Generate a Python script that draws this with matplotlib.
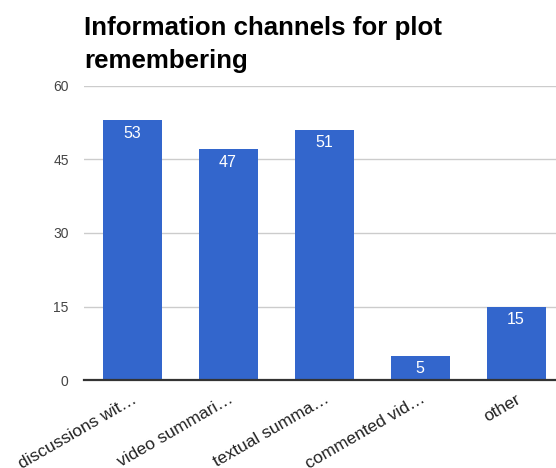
import matplotlib
matplotlib.use("Agg")
import matplotlib.pyplot as plt

plt.rcParams['font.family'] = ['Liberation Sans', 'DejaVu Sans']

# data
categories = ["discussions wit\u2026", "video summari\u2026", "textual summa\u2026",
              "commented vid\u2026", "other"]
values = [53, 47, 51, 5, 15]
yticks = [0, 15, 30, 45, 60]

bar_color = "#3366cc"

fig = plt.figure(figsize=(5.56, 4.68), dpi=100)
W, H = 556, 468
# plot area: left 84px, top 85.6px, bottom 380.3px, 96px per category (clipped at right)
ax = fig.add_axes([84 / W, (H - 380.3) / H, 480 / W, (380.3 - 85.6) / H])

x = list(range(len(categories)))
bars = ax.bar(x, values, width=59 / 96, color=bar_color, zorder=3)
ax.set_xlim(-0.5, len(categories) - 0.5)
ax.set_ylim(0, 60)

for xi, v in zip(x, values):
    ax.annotate(str(v), (xi, v), xytext=(0, -4), textcoords="offset points",
                ha="center", va="top", color="white", fontsize=11.5, zorder=4)

ax.set_yticks(yticks)
ax.set_yticklabels([str(t) for t in yticks], color="#444444", fontsize=10)
ax.tick_params(axis="y", length=0, pad=11)
ax.grid(axis="y", color="#cccccc", linewidth=1, zorder=0)

ax.set_xticks(x)
ax.set_xticklabels(categories, rotation=30, ha="right", va="top",
                   rotation_mode="anchor", color="#222222", fontsize=12.5)
ax.tick_params(axis="x", length=0, pad=8)

for s in ["top", "right", "left"]:
    ax.spines[s].set_visible(False)
ax.spines["bottom"].set_color("#333333")
ax.spines["bottom"].set_linewidth(1.6)
ax.spines["bottom"].set_zorder(5)

fig.text(84 / W, 1 - 34.5 / H, "Information channels for plot",
         ha="left", va="baseline", fontsize=18.6, fontweight="bold", color="black")
fig.text(84 / W, 1 - 68 / H, "remembering",
         ha="left", va="baseline", fontsize=18.6, fontweight="bold", color="black")

fig.savefig("out.png", dpi=100)
